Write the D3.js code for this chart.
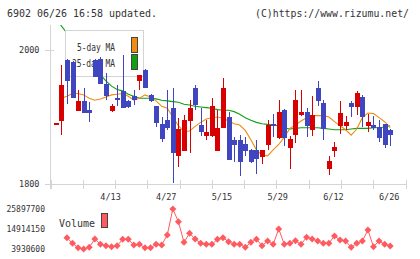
<!DOCTYPE html>
<html>
<head>
<meta charset="utf-8">
<script src="https://cdn.jsdelivr.net/npm/d3@7"></script>
<style>
  html, body { margin: 0; padding: 0; background: #fff; }
  svg { display: block; }
  text { font-family: "DejaVu Sans Mono", monospace; fill: #333; }
</style>
</head>
<body>
<div id="chart"></div>
<script>
// daily candles, index 0 = first trading day shown
const opens  = [1891,1894,1985,1982,1909,1924,1910,1985,1986,1950,1909,1929,1939,1924,1931,1953,1970,1933,1916,1890,1895,
                1913,1842,1850,1894,1944,1888,1871,1871,1850,1884,1900,1866,1866,1860,1851,1851,1841,1858,1890,1868,
                1910,1853,1873,1903,1908,1880,1943,1921,1823,1850,1886,1886,1921,1915,1930,1887,1888,1885,1890,1880];
const highs  = [1891,1978,1986,1983,1941,1943,1923,1987,1989,1966,1920,1948,1993,1925,1941,1963,1972,1935,1917,1900,1941,
                1944,1898,1903,1926,1948,1913,1895,1928,1910,1958,1908,1870,1873,1870,1852,1866,1851,1895,1905,1926,
                1912,1871,1941,1941,1913,1931,1954,1925,1842,1863,1924,1902,1924,1939,1933,1905,1902,1896,1890,1882];
const lows   = [1891,1873,1920,1929,1909,1906,1893,1959,1950,1925,1908,1916,1914,1913,1918,1941,1944,1922,1885,1863,1880,
                1801,1826,1850,1847,1910,1871,1866,1870,1850,1884,1836,1833,1812,1842,1832,1815,1830,1851,1870,1867,
                1856,1823,1861,1901,1870,1871,1916,1865,1813,1841,1875,1880,1900,1903,1885,1877,1880,1863,1853,1857];
const closes = [1891,1948,1953,1929,1924,1906,1906,1960,1950,1932,1916,1925,1914,1915,1925,1963,1944,1924,1891,1867,1883,
                1846,1882,1895,1913,1918,1878,1877,1916,1883,1944,1836,1858,1833,1849,1833,1837,1851,1888,1886,1908,
                1868,1867,1926,1908,1886,1903,1924,1882,1835,1855,1906,1893,1915,1936,1900,1893,1883,1868,1858,1873];

// moving averages as drawn
const ma5  = [null,1928,1931,1935,1935,1933,1928,1925,1927,1930,1933,1934,1935,1931,1925,1928,1933,1930,1924,1916,1913,
              1900,1887,1878,1879,1886,1892,1897,1899,1900,1898,1894,1890,1888,1880,1866,1851,1843,1842,1851,1859,
              1870,1883,1888,1894,1899,1902,1902,1902,1900,1893,1887,1881,1873,1882,1899,1906,1905,1899,1893,1884];
const ma25 = [2048,2036,2025,2014,2003,1993,1982,1972,1963,1954,1946,1941,1939,1934,1931,1928,1928,1928,1927,1925,1924,
              1923,1922,1919,1918,1916,1915,1914,1913,1911,1910,1910,1908,1904,1899,1895,1892,1890,1889,1888,1887,
              1884,1882,1883,1884,1884,1884,1884,1883,1882,1881,1881,1881,1882,1883,1883,1883,1884,1884,1885,1887];

const volumes = [null,null,10140000,7060000,4640000,3930600,4870000,9420000,6510000,5740000,5190000,5740000,9260000,9260000,6130000,6510000,
                 4640000,4640000,6510000,6130000,11620000,25897700,18920000,7610000,12550000,9420000,7060000,6510000,6510000,9260000,
                 10140000,7940000,6510000,6510000,4870000,7610000,9260000,5740000,8320000,6510000,14910000,6510000,7060000,8490000,
                 6510000,10360000,9420000,8320000,7060000,7060000,11070000,8870000,8320000,4870000,7060000,8320000,14360000,5190000,
                 8320000,6510000,5580000];

const dateLabels = ["4/13","4/27","5/15","5/29","6/12","6/26"];
const dateIndex  = [10,20,30,40,50,60];
const priceTicks = [1800,2000];

const W = 420, H = 259;
const svg = d3.select("#chart").append("svg").attr("width", W).attr("height", H);

const x = d3.scaleLinear().domain([0, opens.length - 1]).range([55.8, 390.2]);
const y = d3.scaleLinear().domain([1800, 2000]).range([184, 50]);

const gray = "#d4d4d4";
const red = "#d80000", blue = "#4046c0";

// header
svg.append("text").attr("x", 7).attr("y", 16.5).attr("font-size", 10)
  .attr("textLength", 150).attr("lengthAdjust", "spacingAndGlyphs")
  .text("6902 06/26 16:58 updated.");
svg.append("text").attr("x", 255).attr("y", 16.5).attr("font-size", 10)
  .attr("textLength", 154).attr("lengthAdjust", "spacingAndGlyphs")
  .text("(C)https://www.rizumu.net/");

// axes frame
const axis = svg.append("g").attr("stroke", gray).attr("stroke-width", 1).attr("shape-rendering", "crispEdges");
axis.append("line").attr("x1", 50.5).attr("x2", 50.5).attr("y1", 25).attr("y2", 189);
axis.append("line").attr("x1", 45).attr("x2", 405.5).attr("y1", y(1800) + 0.5).attr("y2", y(1800) + 0.5);
axis.selectAll(".yt").data(priceTicks).join("line")
  .attr("x1", 45).attr("x2", 54).attr("y1", d => Math.round(y(d)) + 0.5).attr("y2", d => Math.round(y(d)) + 0.5);
const gridX = d3.scaleLinear().domain([0, 11]).range([50.5, 405.5]);
axis.selectAll(".xt").data(d3.range(12)).join("line")
  .attr("x1", d => Math.round(gridX(d)) + 0.5).attr("x2", d => Math.round(gridX(d)) + 0.5)
  .attr("y1", 180).attr("y2", 189);

svg.selectAll(".ylab").data(priceTicks).join("text")
  .attr("x", 39.5).attr("y", d => y(d) + 3).attr("text-anchor", "end").attr("font-size", 8.5)
  .text(d => d);

svg.selectAll(".xlab").data(dateLabels).join("text")
  .attr("x", (d, i) => x(dateIndex[i]) - 1).attr("y", 200).attr("text-anchor", "middle").attr("font-size", 8.5)
  .text(d => d);

// plot clip
svg.append("clipPath").attr("id", "plot").append("rect").attr("x", 51).attr("y", 25).attr("width", 355).attr("height", 164);
const plot = svg.append("g").attr("clip-path", "url(#plot)");

const maLine = d3.line().defined(d => d != null).x((d, i) => x(i)).y(d => y(d));
plot.append("path").datum(ma25).attr("d", maLine).attr("fill", "none").attr("stroke", "#10a010").attr("stroke-width", 1.1);
plot.append("path").datum(ma5).attr("d", maLine).attr("fill", "none").attr("stroke", "#f08c10").attr("stroke-width", 1.1);

// legend (drawn over the MA lines, under the candles)
const lg = svg.append("g");
lg.append("rect").attr("x", 65.5).attr("y", 30.5).attr("width", 78).attr("height", 46)
  .attr("fill", "#fff").attr("stroke", gray);
lg.append("text").attr("x", 115).attr("y", 50.5).attr("text-anchor", "end").attr("font-size", 11)
  .attr("textLength", 38).attr("lengthAdjust", "spacingAndGlyphs").text("5-day MA");
lg.append("text").attr("x", 115).attr("y", 67).attr("text-anchor", "end").attr("font-size", 11)
  .attr("textLength", 43).attr("lengthAdjust", "spacingAndGlyphs").text("25-day MA");
lg.append("rect").attr("x", 131.5).attr("y", 37.5).attr("width", 6).attr("height", 15)
  .attr("fill", "#f08c10").attr("stroke", "#444");
lg.append("rect").attr("x", 131.5).attr("y", 54.5).attr("width", 6).attr("height", 15)
  .attr("fill", "#10a010").attr("stroke", "#444");

// candles
const candles = svg.append("g").attr("clip-path", "url(#plot)").attr("shape-rendering", "crispEdges");
const idx = d3.range(opens.length);
const col = i => closes[i] >= opens[i] ? red : blue;
candles.selectAll(".wick").data(idx).join("line")
  .attr("x1", i => Math.round(x(i)) + 0.5).attr("x2", i => Math.round(x(i)) + 0.5)
  .attr("y1", i => y(highs[i])).attr("y2", i => y(lows[i]))
  .attr("stroke", col).attr("stroke-width", 1);
candles.selectAll(".body").data(idx).join("rect")
  .attr("x", i => Math.round(x(i)) - 2)
  .attr("width", 5)
  .attr("y", i => y(Math.max(opens[i], closes[i])))
  .attr("height", i => Math.max(1.5, Math.abs(y(opens[i]) - y(closes[i]))))
  .attr("fill", col);

// volume panel
const vExt = d3.extent(volumes.filter(v => v != null));
const vy = d3.scaleLinear().domain(vExt).range([249, 209]);
const vTicks = [vExt[1], (vExt[0] + vExt[1]) / 2, vExt[0]];
svg.selectAll(".vlab").data(vTicks).join("text")
  .attr("x", 45).attr("y", d => vy(d) + 3).attr("text-anchor", "end").attr("font-size", 8)
  .text(d => Math.round(d));

const volColor = "#ff5a5f";
svg.append("text").attr("x", 59).attr("y", 226.5).attr("font-size", 11)
  .attr("textLength", 36).attr("lengthAdjust", "spacingAndGlyphs").text("Volume");
svg.append("rect").attr("x", 101.5).attr("y", 213.5).attr("width", 6).attr("height", 14)
  .attr("fill", volColor).attr("stroke", "#444");

const vLine = d3.line().defined(d => d != null).x((d, i) => x(i)).y(d => vy(d));
svg.append("path").datum(volumes).attr("d", vLine).attr("fill", "none").attr("stroke", volColor).attr("stroke-width", 1);
const diamond = d3.symbol(d3.symbolSquare, 24);
svg.selectAll(".vpt").data(idx.filter(i => volumes[i] != null)).join("path")
  .attr("d", diamond)
  .attr("transform", i => `translate(${x(i)},${vy(volumes[i])}) rotate(45)`)
  .attr("fill", volColor);
</script>
</body>
</html>
